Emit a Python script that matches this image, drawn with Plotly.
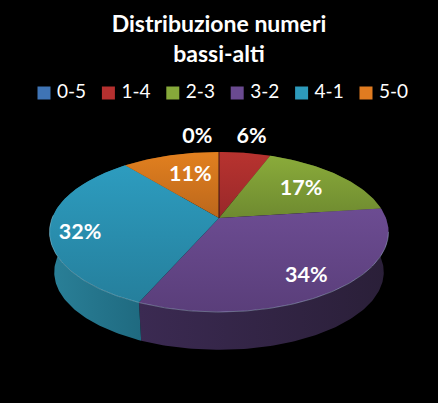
import math
import plotly.graph_objects as go

categories = ["0-5", "1-4", "2-3", "3-2", "4-1", "5-0"]
values = [0.0, 5.8, 17.2, 33.6, 32.4, 11.0]
pct_labels = ["0%", "6%", "17%", "34%", "32%", "11%"]
colors = ["#3f74b5", "#b5302f", "#86a93a", "#6a4a90", "#2d9abb", "#e07b20"]
top_light = ["#4a7fc0", "#b8332f", "#8aab3a", "#6c4c92", "#2d9cbf", "#e2801f"]
top_dark = ["#34639c", "#98282a", "#6e8a30", "#5a3e7a", "#257f9c", "#bb671c"]
side_a = ["#1e3a5c", "#5c1a1a", "#46591f", "#3b2a52", "#2a8098", "#7a4412"]
side_b = ["#1a3350", "#4e1616", "#3c4d1a", "#2a1f38", "#1f6a80", "#693a10"]
label_radius = [1.31, 1.32, 0.67, 0.795, 0.825, 0.66]
label_turn = [-7, 0, 0, 1, -4, 3]

# projection of the tilted pie onto the pixel-sized axes
CX, CY, A, B, K = 219.0, 218.0, 166.9, 77.55, 0.175
DEPTH, SHRINK = 40.5, 0.972
LEGEND_X0, LEGEND_STEP, LEGEND_Y = 44.0, 64.4, 93.0
LEGEND_TEXT_DX, LEGEND_TEXT_DY, LABEL_DY = 13.0, 0.5, 2.0


def project(theta_deg, r=1.0, floor=False):
    t = math.radians(theta_deg)
    u, v = r * math.sin(t), -r * math.cos(t)
    w = 1 - K * v
    x, y = A * u / w, B * v / w
    if floor:
        x, y = x * SHRINK, y * SHRINK + DEPTH
    return CX + x, CY + y


def arc(a0, a1, floor=False):
    n = max(2, int(abs(a1 - a0)) + 2)
    pts = [project(a0 + (a1 - a0) * i / (n - 1), floor=floor) for i in range(n)]
    return [p[0] for p in pts], [p[1] for p in pts]


total = sum(values)
edges = [0.0]
for val in values:
    edges.append(edges[-1] + val / total * 360)

fig = go.Figure()

# side walls
for i in range(len(values)):
    if values[i] <= 0:
        continue
    tx, ty = arc(edges[i], edges[i + 1])
    bx, by = arc(edges[i + 1], edges[i], floor=True)
    fig.add_trace(go.Scatter(
        x=tx + bx + tx[:1], y=ty + by + ty[:1], mode="lines", fill="toself",
        line=dict(width=0), showlegend=False, hoverinfo="skip",
        fillgradient=dict(type="horizontal",
                          colorscale=[[0, side_a[i]], [1, side_b[i]]]),
    ))

# top faces
for i in range(len(values)):
    if values[i] <= 0:
        continue
    ax, ay = arc(edges[i], edges[i + 1])
    fig.add_trace(go.Scatter(
        x=[CX] + ax + [CX], y=[CY] + ay + [CY], mode="lines", fill="toself",
        line=dict(width=0), showlegend=False, hoverinfo="skip",
        fillgradient=dict(type="vertical",
                          colorscale=[[0, top_dark[i]], [1, top_light[i]]]),
    ))

# thin highlight on the front rim
for i in range(len(values)):
    a0, a1 = max(edges[i], 100.0), min(edges[i + 1], 272.0)
    if a1 > a0:
        rx, ry = arc(a0, a1)
        fig.add_trace(go.Scatter(x=rx, y=ry, mode="lines",
                                 line=dict(color="rgba(190,225,240,0.35)", width=1),
                                 showlegend=False, hoverinfo="skip"))

# the empty 0-5 slice shows as a dark hairline
zx, zy = project(edges[0])
fig.add_trace(go.Scatter(x=[CX, zx], y=[CY, zy], mode="lines",
                         line=dict(color="#3a1410", width=1),
                         showlegend=False, hoverinfo="skip"))

# legend row
legend_x = [LEGEND_X0 + i * LEGEND_STEP for i in range(len(categories))]
fig.add_trace(go.Scatter(
    x=legend_x, y=[LEGEND_Y] * len(categories), mode="markers",
    marker=dict(symbol="square", size=13, color=colors),
    showlegend=False, hoverinfo="skip",
))
fig.add_trace(go.Scatter(
    x=[x + LEGEND_TEXT_DX for x in legend_x],
    y=[LEGEND_Y + LEGEND_TEXT_DY] * len(categories),
    mode="text", text=categories, textposition="middle right",
    textfont=dict(family="Lato", size=19, color="white"),
    showlegend=False, hoverinfo="skip",
))

# percent labels
lx, ly = [], []
for i in range(len(values)):
    mid = (edges[i] + edges[i + 1]) / 2 + label_turn[i]
    p = project(mid, label_radius[i])
    lx.append(p[0])
    ly.append(p[1] + LABEL_DY)
fig.add_trace(go.Scatter(
    x=lx, y=ly, mode="text", text=pct_labels, showlegend=False,
    textposition="middle center", hoverinfo="skip",
    textfont=dict(family="Lato", size=21.5, color="white", weight="bold"),
))

fig.update_layout(
    width=438, height=403, margin=dict(l=0, r=0, t=0, b=0),
    paper_bgcolor="black", plot_bgcolor="black",
    font=dict(family="Lato", color="white"),
    showlegend=False,
    title=dict(text="<b>Distribuzione numeri<br>bassi-alti</b>",
               x=0.5, xanchor="center", y=0.92, yanchor="top",
               font=dict(family="Lato", size=23, color="white")),
    xaxis=dict(range=[0, 438], visible=False, fixedrange=True),
    yaxis=dict(range=[403, 0], visible=False, fixedrange=True),
)

fig.write_html(
    "out.html",
    config={"displayModeBar": False},
    post_script="document.documentElement.style.background='black';"
                "document.body.style.margin='0';document.body.style.background='black';"
                "document.body.style.overflow='hidden';",
)
